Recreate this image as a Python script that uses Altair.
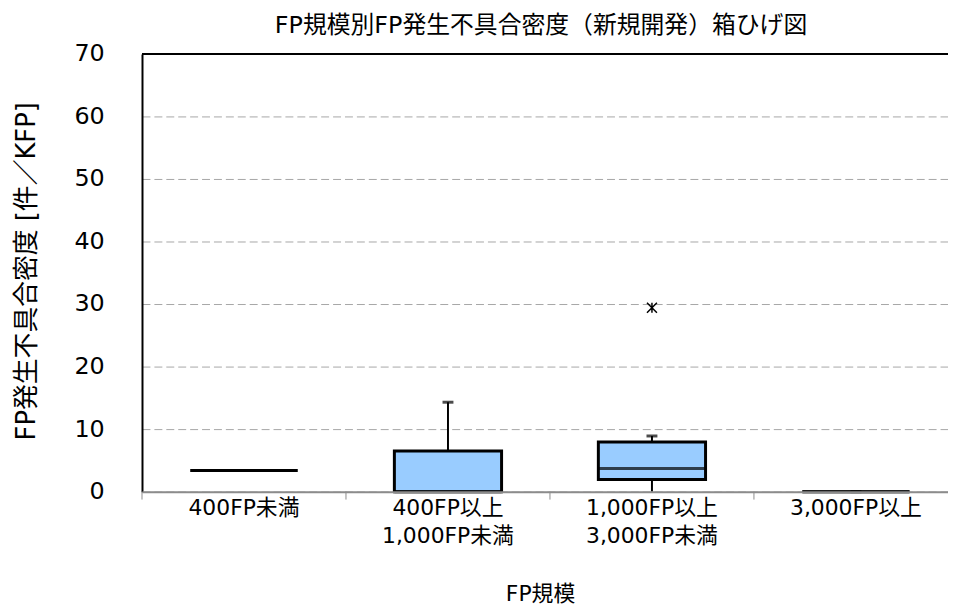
import altair as alt
import pandas as pd

# ---- data ----
categories = ["400FP未満", "400FP以上 1,000FP未満", "1,000FP以上 3,000FP未満", "3,000FP以上"]
lower_whisker = [3.38, 0.0, 0.0, 0.0]
q1 = [3.38, 0.0, 1.95, 0.0]
median = [3.38, 0.0, 3.70, 0.0]
q3 = [3.38, 6.50, 7.95, 0.0]
upper_whisker = [3.38, 14.3, 8.9, 0.0]
outlier_categories = ["1,000FP以上 3,000FP未満"]
outlier_values = [29.4]
y_ticks = [0, 10, 20, 30, 40, 50, 60, 70]

box_df = pd.DataFrame({
    "cat": categories,
    "lo": lower_whisker,
    "q1": q1,
    "med": median,
    "q3": q3,
    "hi": upper_whisker,
})
out_df = pd.DataFrame({"cat": outlier_categories, "v": outlier_values})

JP = "DejaVu Sans, Noto Sans CJK JP"
W, H = 812, 441
BAND = 205.5

xscale = alt.Scale(domain=categories, range=[0, BAND * 4], paddingInner=0, paddingOuter=0)
yscale = alt.Scale(domain=[0, 70], nice=False, zero=True)

x_axis = alt.Axis(
    title="FP規模",
    titleFont=JP, titleFontSize=22, titleFontWeight="normal", titleColor="black",
    titleX=401, titleY=103, titleBaseline="middle", titleAlign="center",
    labelFont=JP, labelFontSize=22, labelColor="black", labelAngle=0,
    labelExpr="split(datum.label, ' ')", labelLineHeight=28, labelPadding=6,
    labelBaseline="top",
    ticks=False, domainColor="#8c8c8c", domainWidth=2, grid=False, zindex=1,
)
y_axis = alt.Axis(
    title="FP発生不具合密度 [件／KFP]",
    titleFont=JP, titleFontSize=26, titleFontWeight="normal", titleColor="black",
    titleX=-116, titleY=H / 2 - 2, titleAngle=-90, titleAlign="center", titleBaseline="middle",
    values=y_ticks, labelFont="DejaVu Sans", labelFontSize=24, labelColor="black",
    labelPadding=38, ticks=False, domainColor="black", domainWidth=2,
    grid=True, gridColor="#a6a6a6", gridDash=[8, 4], gridWidth=1,
)

base = alt.Chart(box_df)
X = alt.X("cat:N", scale=xscale, axis=x_axis, sort=categories)

whisker = base.mark_rule(color="black", strokeWidth=2).encode(
    x=X, y=alt.Y("lo:Q", scale=yscale, axis=y_axis), y2="hi:Q"
)
box = base.mark_bar(size=108, color="#99ccff", stroke="black", strokeWidth=3).encode(
    x=alt.X("cat:N", sort=categories), y="q1:Q", y2="q3:Q"
)
med = base.mark_tick(size=108, thickness=3, color="black", orient="horizontal").encode(
    x=alt.X("cat:N", sort=categories), y="med:Q"
)
cap = base.mark_tick(size=11, thickness=3, color="black", orient="horizontal").encode(
    x=alt.X("cat:N", sort=categories), y="hi:Q"
)
outl = alt.Chart(out_df).mark_point(
    shape="M-1,-1L1,1M-1,1L1,-1M0,-1L0,1", size=100, filled=False,
    stroke="black", strokeWidth=1.5, opacity=1,
).encode(x=alt.X("cat:N", sort=categories), y="v:Q")

cat_ticks = base.mark_rule(color="#8c8c8c", strokeWidth=1).encode(
    x=alt.X("cat:N", sort=categories, bandPosition=0),
    y=alt.value(H), y2=alt.value(H + 8),
)
top_line = alt.Chart(pd.DataFrame({"t": [70]})).mark_rule(color="black", strokeWidth=2).encode(
    y=alt.Y("t:Q")
)

chart = alt.layer(whisker, box, med, cap, outl, cat_ticks, top_line).properties(
    width=W, height=H,
    title=alt.TitleParams(
        "FP規模別FP発生不具合密度（新規開発）箱ひげ図",
        font=JP, fontSize=24, fontWeight="normal", color="black",
        anchor="middle", dx=-4, offset=4,
    ),
    autosize=alt.AutoSizeParams(type="none"),
    padding={"left": 135, "top": 44, "right": 0, "bottom": 116},
).configure_view(stroke=None).configure(background="white")

chart.save("out.html", embed_options={"renderer": "svg", "actions": False})
